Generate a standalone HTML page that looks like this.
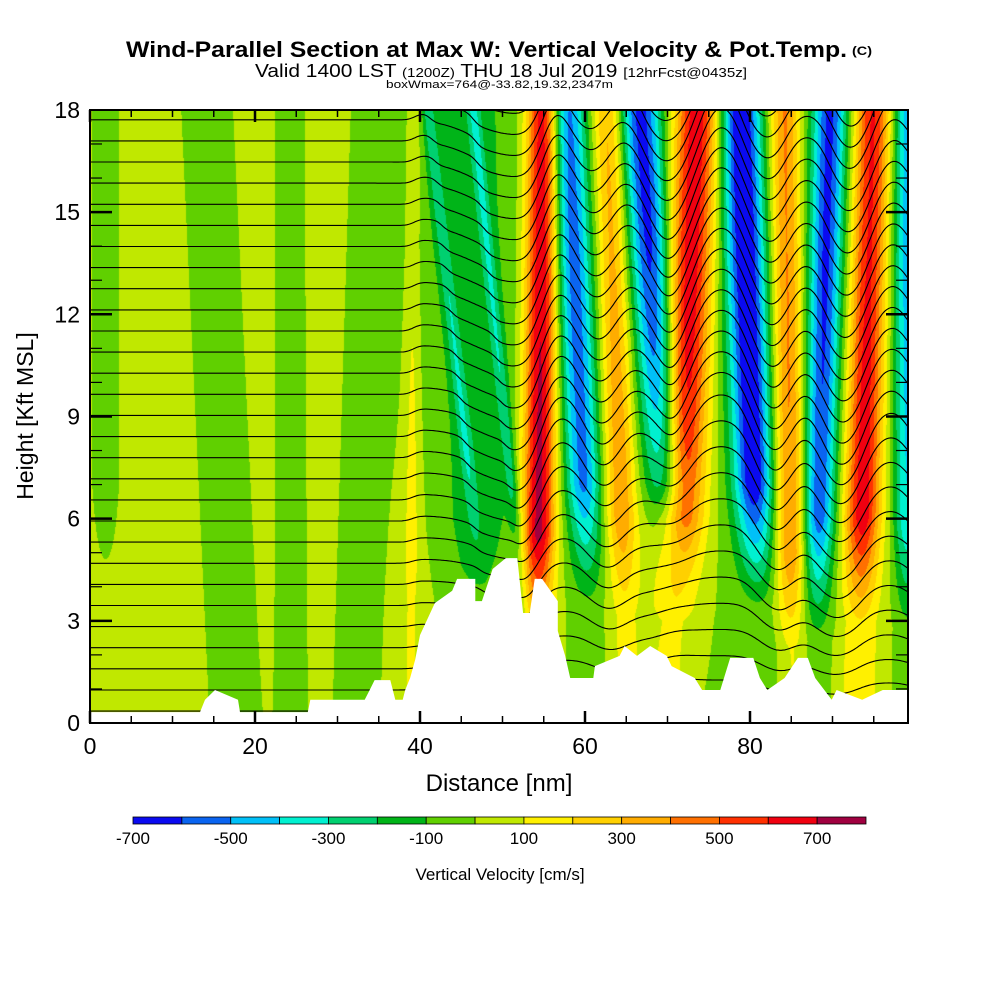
<!DOCTYPE html>
<html><head><meta charset="utf-8"><style>
html,body{margin:0;padding:0;background:#fff;width:1000px;height:1000px;overflow:hidden}
#wrap{position:relative;width:1000px;height:1000px}
#field{position:absolute;left:90px;top:110px}
#ov{position:absolute;left:0;top:0}
text{font-family:"Liberation Sans",sans-serif}
</style></head><body>
<div id="wrap">
<canvas id="field" width="818" height="613"></canvas>
<svg id="ov" width="1000" height="1000" xmlns="http://www.w3.org/2000/svg">
<defs><clipPath id="pc"><rect x="90" y="110" width="818" height="613"/></clipPath></defs>
<g id="theta" clip-path="url(#pc)"></g>
<polygon id="terrain" fill="#fff"/>
<rect x="90" y="110" width="818" height="613" fill="none" stroke="#000" stroke-width="2"/>
<g id="ticks" stroke="#000" stroke-width="2"></g>
<g id="ylabels" font-size="23" text-anchor="end"></g>
<g id="xlabels" font-size="23" text-anchor="middle"></g>
<text x="126" y="57" font-size="22" font-weight="bold" textLength="721" lengthAdjust="spacingAndGlyphs">Wind-Parallel Section at Max W: Vertical Velocity &amp; Pot.Temp.</text>
<text x="852" y="55" font-size="12" font-weight="bold" textLength="20" lengthAdjust="spacingAndGlyphs">(C)</text>
<text x="255" y="77" font-size="18" textLength="492" lengthAdjust="spacingAndGlyphs">Valid 1400 LST <tspan font-size="13">(1200Z)</tspan> THU 18 Jul 2019 <tspan font-size="13">[12hrFcst@0435z]</tspan></text>
<text x="386" y="88" font-size="11" textLength="227" lengthAdjust="spacingAndGlyphs">boxWmax=764@-33.82,19.32,2347m</text>
<text x="499" y="791" font-size="24" text-anchor="middle">Distance [nm]</text>
<text transform="translate(33,416) rotate(-90)" font-size="23" text-anchor="middle">Height [Kft MSL]</text>
<g id="cbar"></g>
<g id="cblabels" font-size="17" text-anchor="middle"></g>
<text x="500" y="880" font-size="17" text-anchor="middle">Vertical Velocity [cm/s]</text>
</svg>
</div>
<script>
// ---- data ----
const wLevels = [-700,-600,-500,-400,-300,-200,-100,0,100,200,300,400,500,600,700,800];
const wColors = ["#0a0af0","#0a64f0","#00c0f8","#00f0d0","#00d070","#00b418","#60d000","#c0e800","#fff000","#ffd000","#ffac00","#ff7000","#ff3000","#f00010","#a00040"];
const cbTickValues = [-700,-500,-300,-100,100,300,500,700];
const xTickValues = [0,20,40,60,80];
const yTickValues = [0,3,6,9,12,15,18];
// background w per 5 nm column, high (>=14 kft) and low (<=3 kft)
const bgCols = [0,5,10,15,20,25,30,35,40,45,50,55,60,65,70,75,80,85,90,95,100];
const bgHigh = [50,50,50,50,50,50,50,50,-60,-30,-30,-70,-70,-70,-70,-70,-70,-70,-70,-70,-70];
const bgLow  = [50,50,50,50,50,50,50,50,40,-40,-30,0,-10,20,-10,-10,0,-30,0,30,0];
// bands: center at 18 kft, center at 6 kft, amplitude, sigma(nm), fade-start kft, floor
const bandTop   = [1.9, 14.2, 24.2, 34.5, 39.3, 46.0, 41.0, 46.5, 54.9, 57.8, 62.7, 66.7, 73.6, 78.8, 84.2, 89.7, 94.9, 99.0];
const bandMid   = [1.9, 16.5, 24.4, 33.0, 39.0, 47.0, 46.5, 51.5, 54.4, 60.0, 64.4, 70.2, 71.4, 80.6, 84.9, 88.3, 93.6, 99.0];
const bandAmp   = [-110,-110,-110,-110,130,-120,-190,-200,760,-500,400,-580,740,-680,480,-560,680,-380];
const bandSigma = [1.3, 2.5, 1.45, 2.3, 0.7, 3.0, 0.55, 0.55, 1.4, 1.5, 1.35, 1.7, 2.0, 1.7, 1.35, 1.4, 1.55, 1.1];
const bandLow   = [3, -5, -5, -5, 1, 2, 4, 3, 1.5, 3, 2, 3, 2, 3, 1, 2, 2, 2];
const bandFloor = [0, 1, 1, 1, 0.6, 0.3, 0, 0.3, 0.3, 0.1, 0.3, 0.1, 0.25, 0.1, 0.3, 0.1, 0.25, 0.2];
const thetaBase = [];
for (let i = 0; i < 36; i++) thetaBase.push(0.35 + i * 0.62);
const terrainX = [0,13.33,13.94,15.15,17.94,18.18,26.4,26.7,33.3,33.9,34.5,36.4,37.0,37.9,38.2,38.8,39.4,40,41.8,43.9,44.5,46.7,46.7,47.5,48.8,50.4,51.8,52.5,53.3,53.9,54.8,56.7,56.7,57.6,58.2,61.0,61.2,64.2,64.8,66.3,67.9,69.9,70.5,73.3,74.2,76.4,77.6,80.4,81.2,82.1,84.2,85.8,87.0,87.9,89.9,90.5,93.6,96.1,99.2];
const terrainZ = [0.32,0.32,0.68,0.97,0.68,0.32,0.32,0.68,0.68,0.97,1.26,1.26,0.68,0.68,0.97,1.32,1.85,2.58,3.52,3.88,4.23,4.23,3.58,3.58,4.52,4.84,4.84,3.23,3.23,4.23,4.23,3.58,2.70,1.97,1.32,1.32,1.67,1.97,2.26,1.97,2.26,1.97,1.67,1.32,0.97,0.97,1.91,1.91,1.32,0.97,1.32,1.91,1.91,1.32,0.68,0.97,0.68,0.97,0.97];

// ---- axes ----
const X = nm => 90 + nm * 8.25;
const Y = z => 723 - z * 34.06;
const invX = px => (px - 90) / 8.25;
const invY = py => (723 - py) / 34.06;

function bgAt(x, z) {
  let i = Math.min(bgCols.length - 2, Math.max(0, Math.floor(x / 5)));
  const f = Math.min(1, Math.max(0, (x - bgCols[i]) / 5));
  const hi = bgHigh[i] + (bgHigh[i+1] - bgHigh[i]) * f;
  const lo = bgLow[i] + (bgLow[i+1] - bgLow[i]) * f;
  const t = Math.min(1, Math.max(0, (z - 3) / 11));
  return lo + (hi - lo) * t;
}
function bandAt(b, x, z) {
  const c = bandMid[b] + (bandTop[b] - bandMid[b]) * (z - 6) / 12;
  const d = (x - c) / bandSigma[b];
  if (d > 4 || d < -4) return 0;
  return bandAmp[b] * Math.exp(-0.5 * d * d);
}
function bandsAt(x, z) {
  let s = 0;
  for (let b = 0; b < bandTop.length; b++) {
    const env = Math.max(bandFloor[b], Math.min(1, (z - bandLow[b]) / 4));
    s += env * bandAt(b, x, z);
  }
  return s;
}
function colorIdx(v) {
  let i = Math.floor((v - wLevels[0]) / 100);
  return Math.max(0, Math.min(wColors.length - 1, i));
}
// ---- field ----
const cv = document.getElementById('field');
const ctx = cv.getContext('2d');
const img = ctx.createImageData(818, 613);
const rgb = wColors.map(h => [parseInt(h.substr(1,2),16), parseInt(h.substr(3,2),16), parseInt(h.substr(5,2),16)]);
for (let py = 0; py < 613; py++) {
  const z = invY(110 + py + 0.5);
  for (let px = 0; px < 818; px++) {
    const x = invX(90 + px + 0.5);
    const v = bgAt(x, z) + bandsAt(x, z);
    const c = rgb[colorIdx(v)];
    const k = (py * 818 + px) * 4;
    img.data[k] = c[0]; img.data[k+1] = c[1]; img.data[k+2] = c[2]; img.data[k+3] = 255;
  }
}
ctx.putImageData(img, 0, 0);

const NS = 'http://www.w3.org/2000/svg';
// ---- theta contours (displacement = integral of w, smooth envelope in z) ----
const thg = document.getElementById('theta');
const kDisp = 0.0009, dx = 0.2;
thetaBase.forEach((z0) => {
  const env = Math.min(1, Math.max(0.15, z0 / 8));
  let I = 0, pts = [];
  for (let x = 0; x <= 99.5; x += dx) {
    const z = z0 + kDisp * env * I;
    pts.push(X(x).toFixed(1) + ',' + Y(z).toFixed(1));
    let s = 0;
    for (let b = 4; b < bandTop.length; b++) s += bandAt(b, x, z0);
    I += s * dx;
  }
  const pl = document.createElementNS(NS, 'polyline');
  pl.setAttribute('points', pts.join(' '));
  pl.setAttribute('fill', 'none');
  pl.setAttribute('stroke', '#000');
  pl.setAttribute('stroke-width', '1.1');
  
  
  thg.appendChild(pl);
});
// ---- terrain ----
const tp = terrainX.map((x, i) => X(x).toFixed(1) + ',' + Y(terrainZ[i]).toFixed(1));
tp.push(X(99.2) + ',' + Y(0), X(0) + ',' + Y(0));
document.getElementById('terrain').setAttribute('points', tp.join(' '));
// ---- ticks ----
const tg = document.getElementById('ticks');
function line(x1, y1, x2, y2, w, name) {
  const l = document.createElementNS(NS, 'line');
  l.setAttribute('x1', x1); l.setAttribute('y1', y1); l.setAttribute('x2', x2); l.setAttribute('y2', y2);
  l.setAttribute('stroke-width', w);
  
  
  tg.appendChild(l);
}
for (let v = 0; v <= 95; v += 5) {
  const major = v % 20 === 0, L = major ? 12 : 7;
  line(X(v), 723, X(v), 723 - L, major ? 2.5 : 1.5, 'x-tick');
  line(X(v), 110, X(v), 110 + L, major ? 2.5 : 1.5, 'x-tick-top');
}
for (let v = 1; v < 18; v++) {
  const major = v % 3 === 0, L = major ? 22 : 12;
  line(90, Y(v), 90 + L, Y(v), major ? 2.5 : 1.2, 'y-tick');
  line(908, Y(v), 908 - L, Y(v), major ? 2.5 : 1.2, 'y-tick-right');
}
const yl = document.getElementById('ylabels');
yTickValues.forEach(v => {
  const t = document.createElementNS(NS, 'text');
  t.setAttribute('x', 80); t.setAttribute('y', Y(v) + 8);
  t.textContent = v;
  
  
  yl.appendChild(t);
});
const xl = document.getElementById('xlabels');
xTickValues.forEach(v => {
  const t = document.createElementNS(NS, 'text');
  t.setAttribute('x', X(v)); t.setAttribute('y', 754);
  t.textContent = v;
  
  
  xl.appendChild(t);
});
// ---- colorbar ----
const cbX0 = 133, cbX1 = 866, cbW = (cbX1 - cbX0) / wColors.length;
const CB = v => cbX0 + (v - wLevels[0]) / 100 * cbW;
const cb = document.getElementById('cbar');
wColors.forEach((c, i) => {
  const r = document.createElementNS(NS, 'rect');
  r.setAttribute('x', CB(wLevels[i])); r.setAttribute('y', 817);
  r.setAttribute('width', cbW); r.setAttribute('height', 7);
  r.setAttribute('fill', c); r.setAttribute('stroke', '#000'); r.setAttribute('stroke-width', '0.8');
  
  
  cb.appendChild(r);
});
const cbl = document.getElementById('cblabels');
cbTickValues.forEach(v => {
  const t = document.createElementNS(NS, 'text');
  t.setAttribute('x', CB(v)); t.setAttribute('y', 844);
  t.textContent = v;
  
  
  cbl.appendChild(t);
});
</script>
</body></html>
